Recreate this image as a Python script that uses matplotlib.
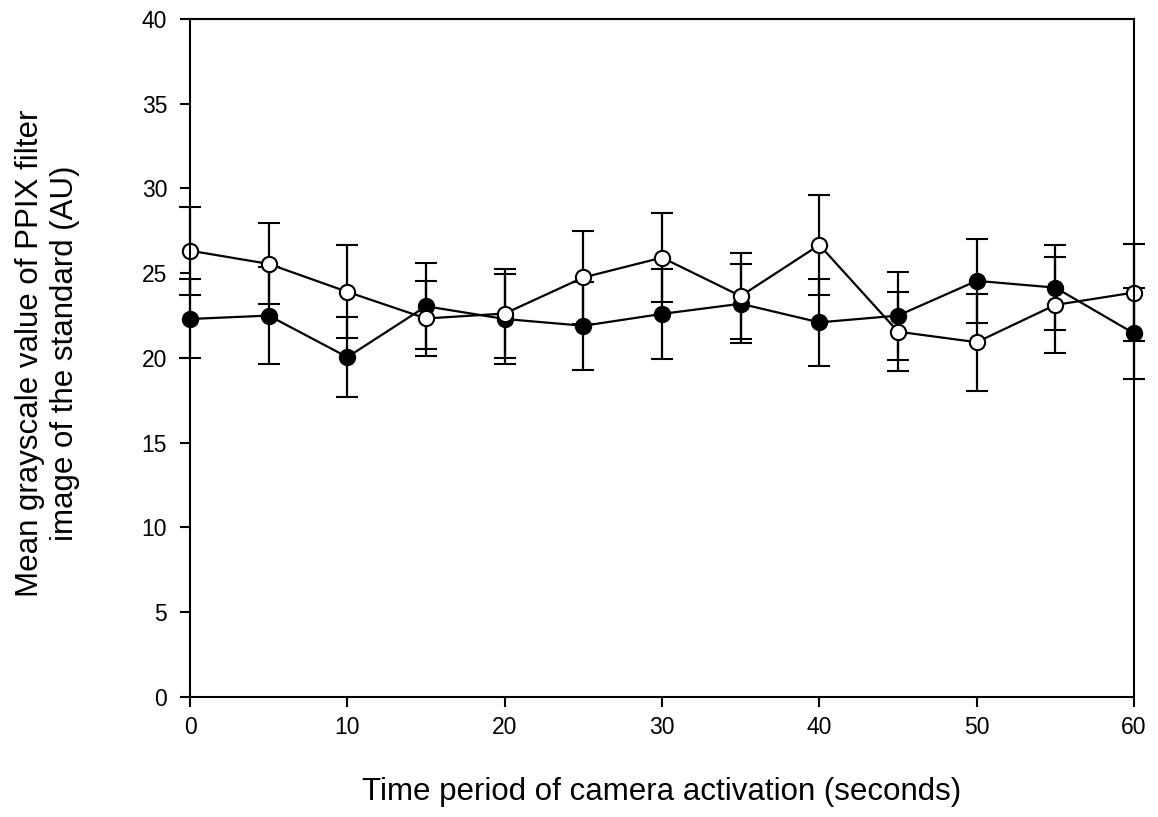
import matplotlib
matplotlib.use('Agg')
import matplotlib.pyplot as plt

plt.rcParams['font.family'] = ['Liberation Sans', 'DejaVu Sans']

# time points (s) and mean grayscale values with their error bars
time_s = [0, 5, 10, 15, 20, 25, 30, 35, 40, 45, 50, 55, 60]

filled_mean = [22.3, 22.5, 20.05, 23.05, 22.3, 21.9, 22.6, 23.2, 22.1, 22.5, 24.55, 24.15, 21.45]
filled_err = [2.33, 2.85, 2.38, 2.55, 2.63, 2.6, 2.67, 2.33, 2.55, 2.6, 2.46, 2.5, 2.68]

open_mean = [26.33, 25.55, 23.9, 22.33, 22.62, 24.75, 25.92, 23.65, 26.67, 21.55, 20.93, 23.13, 23.86]
open_err = [2.6, 2.39, 2.75, 2.23, 2.63, 2.74, 2.62, 2.55, 2.95, 2.33, 2.87, 2.85, 2.87]

fig = plt.figure(figsize=(11.58, 8.17), dpi=100)
ax = fig.add_axes([0.1641, 0.1469, 0.8152, 0.8299])

common = dict(color='black', linewidth=1.6, elinewidth=1.6, capsize=8, capthick=1.6,
              markersize=11, markeredgewidth=1.5, markeredgecolor='black')

series = [
    ax.errorbar(time_s, filled_mean, yerr=filled_err, fmt='-o', markerfacecolor='black',
                zorder=3, **common),
    ax.errorbar(time_s, open_mean, yerr=open_err, fmt='-o', markerfacecolor='white',
                zorder=4, **common),
]
# markers at 0 and 60 sit on the frame, don't cut them off
for cont in series:
    for art in cont.get_children():
        art.set_clip_on(False)

ax.set_xlim(0, 60)
ax.set_ylim(0, 40)
ax.set_xticks(range(0, 61, 10))
ax.set_yticks(range(0, 41, 5))

for side in ['left', 'right', 'top', 'bottom']:
    ax.spines[side].set_linewidth(1.5)
    ax.spines[side].set_zorder(5)

ax.tick_params(axis='both', direction='out', length=7.5, width=1.5, labelsize=16.5)
ax.tick_params(axis='x', pad=6)
ax.tick_params(axis='y', pad=9)

ax.set_xlabel('Time period of camera activation (seconds)', fontsize=22.5)
ax.set_ylabel('Mean grayscale value of PPIX filter\nimage of the standard (AU)',
              fontsize=22.5, linespacing=1.2)
ax.xaxis.set_label_coords(0.5, -0.118)
ax.yaxis.set_label_coords(-0.1165, 0.507)

fig.savefig('out.png', dpi=100)
